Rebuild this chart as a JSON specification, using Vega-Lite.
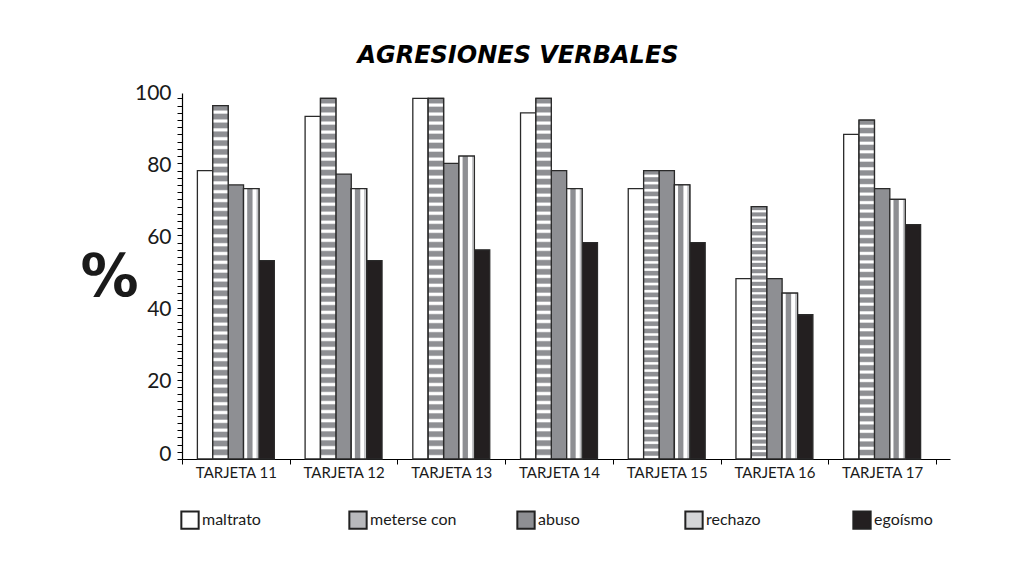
{
  "$schema": "https://vega.github.io/schema/vega-lite/v6.json",
  "autosize": {"type": "none"},
  "width": 768,
  "height": 366,
  "padding": {"left": 182, "top": 93, "right": 71, "bottom": 109},
  "background": "#ffffff",
  "config": {"view": {"stroke": null}, "font": "Lato"},
  "title": {
    "text": "AGRESIONES VERBALES",
    "font": "DejaVu Sans",
    "fontSize": 24,
    "fontWeight": "bold",
    "fontStyle": "italic",
    "color": "#000000",
    "anchor": "middle",
    "baseline": "alphabetic",
    "offset": 29,
    "dx": -48,
    "dy": 34
  },
  "data": {
    "values": [
      {"tarjeta": "TARJETA 11", "tipo": "maltrato", "valor": 80},
      {"tarjeta": "TARJETA 11", "tipo": "meterse con", "valor": 98},
      {"tarjeta": "TARJETA 11", "tipo": "abuso", "valor": 76},
      {"tarjeta": "TARJETA 11", "tipo": "rechazo", "valor": 75},
      {"tarjeta": "TARJETA 11", "tipo": "egoísmo", "valor": 55},
      {"tarjeta": "TARJETA 12", "tipo": "maltrato", "valor": 95},
      {"tarjeta": "TARJETA 12", "tipo": "meterse con", "valor": 100},
      {"tarjeta": "TARJETA 12", "tipo": "abuso", "valor": 79},
      {"tarjeta": "TARJETA 12", "tipo": "rechazo", "valor": 75},
      {"tarjeta": "TARJETA 12", "tipo": "egoísmo", "valor": 55},
      {"tarjeta": "TARJETA 13", "tipo": "maltrato", "valor": 100},
      {"tarjeta": "TARJETA 13", "tipo": "meterse con", "valor": 100},
      {"tarjeta": "TARJETA 13", "tipo": "abuso", "valor": 82},
      {"tarjeta": "TARJETA 13", "tipo": "rechazo", "valor": 84},
      {"tarjeta": "TARJETA 13", "tipo": "egoísmo", "valor": 58},
      {"tarjeta": "TARJETA 14", "tipo": "maltrato", "valor": 96},
      {"tarjeta": "TARJETA 14", "tipo": "meterse con", "valor": 100},
      {"tarjeta": "TARJETA 14", "tipo": "abuso", "valor": 80},
      {"tarjeta": "TARJETA 14", "tipo": "rechazo", "valor": 75},
      {"tarjeta": "TARJETA 14", "tipo": "egoísmo", "valor": 60},
      {"tarjeta": "TARJETA 15", "tipo": "maltrato", "valor": 75},
      {"tarjeta": "TARJETA 15", "tipo": "meterse con", "valor": 80},
      {"tarjeta": "TARJETA 15", "tipo": "abuso", "valor": 80},
      {"tarjeta": "TARJETA 15", "tipo": "rechazo", "valor": 76},
      {"tarjeta": "TARJETA 15", "tipo": "egoísmo", "valor": 60},
      {"tarjeta": "TARJETA 16", "tipo": "maltrato", "valor": 50},
      {"tarjeta": "TARJETA 16", "tipo": "meterse con", "valor": 70},
      {"tarjeta": "TARJETA 16", "tipo": "abuso", "valor": 50},
      {"tarjeta": "TARJETA 16", "tipo": "rechazo", "valor": 46},
      {"tarjeta": "TARJETA 16", "tipo": "egoísmo", "valor": 40},
      {"tarjeta": "TARJETA 17", "tipo": "maltrato", "valor": 90},
      {"tarjeta": "TARJETA 17", "tipo": "meterse con", "valor": 94},
      {"tarjeta": "TARJETA 17", "tipo": "abuso", "valor": 75},
      {"tarjeta": "TARJETA 17", "tipo": "rechazo", "valor": 72},
      {"tarjeta": "TARJETA 17", "tipo": "egoísmo", "valor": 65}
    ]
  },
  "encoding": {
    "x": {
      "field": "tarjeta",
      "type": "nominal",
      "scale": {"paddingInner": 0, "paddingOuter": 0.065, "align": 0},
      "axis": {
        "title": null,
        "labelAngle": 0,
        "labelFont": "Lato",
        "labelFontSize": 15,
        "labelColor": "#1a1a1a",
        "labelPadding": 1,
        "tickBand": "extent",
        "tickSize": 5,
        "tickColor": "#000000",
        "domainColor": "#000000",
        "domainWidth": 1.2,
        "grid": false
      }
    },
    "xOffset": {
      "field": "tipo",
      "type": "nominal",
      "scale": {
        "domain": ["maltrato", "meterse con", "abuso", "rechazo", "egoísmo"],
        "paddingInner": 0,
        "paddingOuter": 1.19
      }
    },
    "y": {
      "field": "valor",
      "type": "quantitative",
      "scale": {"domain": [0, 101.5], "nice": false, "zero": true},
      "axis": {
        "title": "%",
        "titleAngle": 0,
        "titleX": -73,
        "titleY": 185,
        "titleAlign": "center",
        "titleBaseline": "middle",
        "titleFont": "DejaVu Sans",
        "titleFontSize": 58,
        "titleFontWeight": "bold",
        "titleColor": "#1a1a1a",
        "values": [0, 2, 4, 6, 8, 10, 12, 14, 16, 18, 20, 22, 24, 26, 28, 30, 32, 34, 36, 38, 40, 42, 44, 46, 48, 50, 52, 54, 56, 58, 60, 62, 64, 66, 68, 70, 72, 74, 76, 78, 80, 82, 84, 86, 88, 90, 92, 94, 96, 98, 100],
        "labelExpr": "datum.value % 20 === 0 ? datum.label : ''",
        "labelOverlap": false,
        "labelFlush": false,
        "labelFont": "Lato",
        "labelFontSize": 21,
        "labelColor": "#1a1a1a",
        "labelBaseline": "alphabetic",
        "labelOffset": 1,
        "labelPadding": 6,
        "tickSize": 5,
        "tickColor": "#000000",
        "domainColor": "#000000",
        "domainWidth": 1.2,
        "grid": false
      }
    }
  },
  "layer": [
    {
      "mark": {"type": "bar", "stroke": "#2a2a2a", "strokeWidth": 1.3},
      "encoding": {
        "fill": {
          "field": "tipo",
          "type": "nominal",
          "scale": {
            "domain": ["maltrato", "meterse con", "abuso", "rechazo", "egoísmo"],
            "range": ["#ffffff", "#b8b9bc", "#8e8f93", "#d4d5d7", "#231f20"]
          },
          "legend": {
            "title": null,
            "orient": "none",
            "direction": "horizontal",
            "columns": 5,
            "gridAlign": "all",
            "legendX": -2,
            "legendY": 417,
            "symbolType": "square",
            "symbolSize": 300,
            "symbolStrokeColor": "#222222",
            "symbolStrokeWidth": 2,
            "symbolOpacity": 1,
            "labelFont": "Lato",
            "labelFontSize": 16,
            "labelColor": "#1a1a1a",
            "labelOffset": 2,
            "columnPadding": 56
          }
        }
      }
    },
    {
      "transform": [{"filter": "datum.tipo === 'rechazo'"}],
      "mark": {
        "type": "bar",
        "stroke": "#2a2a2a",
        "strokeWidth": 1.3,
        "fill": {"gradient": "linear", "x1": 0, "y1": 0, "x2": 1, "y2": 0, "stops": [
          {"offset": 0, "color": "#ffffff"},
          {"offset": 0.2, "color": "#ffffff"},
          {"offset": 0.27, "color": "#8e8f93"},
          {"offset": 0.55, "color": "#8e8f93"},
          {"offset": 0.62, "color": "#ffffff"},
          {"offset": 0.82, "color": "#ffffff"},
          {"offset": 0.86, "color": "#c4c5c8"},
          {"offset": 0.92, "color": "#c4c5c8"},
          {"offset": 0.96, "color": "#ffffff"},
          {"offset": 1, "color": "#ffffff"}
        ]}
      },
      "encoding": {}
    },
    {
      "transform": [{"filter": "datum.tipo === 'meterse con'"}],
      "mark": {
        "type": "bar",
        "stroke": "#2a2a2a",
        "strokeWidth": 1.3,
        "fill": {"gradient": "linear", "x1": 0, "y1": 0, "x2": 0, "y2": 1, "stops": [
          {"offset": 0, "color": "#8e8f93"}, {"offset": 0.012, "color": "#8e8f93"}, {"offset": 0.016, "color": "#ffffff"}, {"offset": 0.021, "color": "#ffffff"},
          {"offset": 0.025, "color": "#8e8f93"}, {"offset": 0.037, "color": "#8e8f93"}, {"offset": 0.041, "color": "#ffffff"}, {"offset": 0.046, "color": "#ffffff"},
          {"offset": 0.05, "color": "#8e8f93"}, {"offset": 0.062, "color": "#8e8f93"}, {"offset": 0.066, "color": "#ffffff"}, {"offset": 0.071, "color": "#ffffff"},
          {"offset": 0.075, "color": "#8e8f93"}, {"offset": 0.087, "color": "#8e8f93"}, {"offset": 0.091, "color": "#ffffff"}, {"offset": 0.096, "color": "#ffffff"},
          {"offset": 0.1, "color": "#8e8f93"}, {"offset": 0.112, "color": "#8e8f93"}, {"offset": 0.116, "color": "#ffffff"}, {"offset": 0.121, "color": "#ffffff"},
          {"offset": 0.125, "color": "#8e8f93"}, {"offset": 0.137, "color": "#8e8f93"}, {"offset": 0.141, "color": "#ffffff"}, {"offset": 0.146, "color": "#ffffff"},
          {"offset": 0.15, "color": "#8e8f93"}, {"offset": 0.162, "color": "#8e8f93"}, {"offset": 0.166, "color": "#ffffff"}, {"offset": 0.171, "color": "#ffffff"},
          {"offset": 0.175, "color": "#8e8f93"}, {"offset": 0.187, "color": "#8e8f93"}, {"offset": 0.191, "color": "#ffffff"}, {"offset": 0.196, "color": "#ffffff"},
          {"offset": 0.2, "color": "#8e8f93"}, {"offset": 0.212, "color": "#8e8f93"}, {"offset": 0.216, "color": "#ffffff"}, {"offset": 0.221, "color": "#ffffff"},
          {"offset": 0.225, "color": "#8e8f93"}, {"offset": 0.237, "color": "#8e8f93"}, {"offset": 0.241, "color": "#ffffff"}, {"offset": 0.246, "color": "#ffffff"},
          {"offset": 0.25, "color": "#8e8f93"}, {"offset": 0.262, "color": "#8e8f93"}, {"offset": 0.266, "color": "#ffffff"}, {"offset": 0.271, "color": "#ffffff"},
          {"offset": 0.275, "color": "#8e8f93"}, {"offset": 0.287, "color": "#8e8f93"}, {"offset": 0.291, "color": "#ffffff"}, {"offset": 0.296, "color": "#ffffff"},
          {"offset": 0.3, "color": "#8e8f93"}, {"offset": 0.312, "color": "#8e8f93"}, {"offset": 0.316, "color": "#ffffff"}, {"offset": 0.321, "color": "#ffffff"},
          {"offset": 0.325, "color": "#8e8f93"}, {"offset": 0.337, "color": "#8e8f93"}, {"offset": 0.341, "color": "#ffffff"}, {"offset": 0.346, "color": "#ffffff"},
          {"offset": 0.35, "color": "#8e8f93"}, {"offset": 0.362, "color": "#8e8f93"}, {"offset": 0.366, "color": "#ffffff"}, {"offset": 0.371, "color": "#ffffff"},
          {"offset": 0.375, "color": "#8e8f93"}, {"offset": 0.387, "color": "#8e8f93"}, {"offset": 0.391, "color": "#ffffff"}, {"offset": 0.396, "color": "#ffffff"},
          {"offset": 0.4, "color": "#8e8f93"}, {"offset": 0.412, "color": "#8e8f93"}, {"offset": 0.416, "color": "#ffffff"}, {"offset": 0.421, "color": "#ffffff"},
          {"offset": 0.425, "color": "#8e8f93"}, {"offset": 0.437, "color": "#8e8f93"}, {"offset": 0.441, "color": "#ffffff"}, {"offset": 0.446, "color": "#ffffff"},
          {"offset": 0.45, "color": "#8e8f93"}, {"offset": 0.462, "color": "#8e8f93"}, {"offset": 0.466, "color": "#ffffff"}, {"offset": 0.471, "color": "#ffffff"},
          {"offset": 0.475, "color": "#8e8f93"}, {"offset": 0.487, "color": "#8e8f93"}, {"offset": 0.491, "color": "#ffffff"}, {"offset": 0.496, "color": "#ffffff"},
          {"offset": 0.5, "color": "#8e8f93"}, {"offset": 0.512, "color": "#8e8f93"}, {"offset": 0.516, "color": "#ffffff"}, {"offset": 0.521, "color": "#ffffff"},
          {"offset": 0.525, "color": "#8e8f93"}, {"offset": 0.537, "color": "#8e8f93"}, {"offset": 0.541, "color": "#ffffff"}, {"offset": 0.546, "color": "#ffffff"},
          {"offset": 0.55, "color": "#8e8f93"}, {"offset": 0.562, "color": "#8e8f93"}, {"offset": 0.566, "color": "#ffffff"}, {"offset": 0.571, "color": "#ffffff"},
          {"offset": 0.575, "color": "#8e8f93"}, {"offset": 0.587, "color": "#8e8f93"}, {"offset": 0.591, "color": "#ffffff"}, {"offset": 0.596, "color": "#ffffff"},
          {"offset": 0.6, "color": "#8e8f93"}, {"offset": 0.612, "color": "#8e8f93"}, {"offset": 0.616, "color": "#ffffff"}, {"offset": 0.621, "color": "#ffffff"},
          {"offset": 0.625, "color": "#8e8f93"}, {"offset": 0.637, "color": "#8e8f93"}, {"offset": 0.641, "color": "#ffffff"}, {"offset": 0.646, "color": "#ffffff"},
          {"offset": 0.65, "color": "#8e8f93"}, {"offset": 0.662, "color": "#8e8f93"}, {"offset": 0.666, "color": "#ffffff"}, {"offset": 0.671, "color": "#ffffff"},
          {"offset": 0.675, "color": "#8e8f93"}, {"offset": 0.687, "color": "#8e8f93"}, {"offset": 0.691, "color": "#ffffff"}, {"offset": 0.696, "color": "#ffffff"},
          {"offset": 0.7, "color": "#8e8f93"}, {"offset": 0.712, "color": "#8e8f93"}, {"offset": 0.716, "color": "#ffffff"}, {"offset": 0.721, "color": "#ffffff"},
          {"offset": 0.725, "color": "#8e8f93"}, {"offset": 0.737, "color": "#8e8f93"}, {"offset": 0.741, "color": "#ffffff"}, {"offset": 0.746, "color": "#ffffff"},
          {"offset": 0.75, "color": "#8e8f93"}, {"offset": 0.762, "color": "#8e8f93"}, {"offset": 0.766, "color": "#ffffff"}, {"offset": 0.771, "color": "#ffffff"},
          {"offset": 0.775, "color": "#8e8f93"}, {"offset": 0.787, "color": "#8e8f93"}, {"offset": 0.791, "color": "#ffffff"}, {"offset": 0.796, "color": "#ffffff"},
          {"offset": 0.8, "color": "#8e8f93"}, {"offset": 0.812, "color": "#8e8f93"}, {"offset": 0.816, "color": "#ffffff"}, {"offset": 0.821, "color": "#ffffff"},
          {"offset": 0.825, "color": "#8e8f93"}, {"offset": 0.837, "color": "#8e8f93"}, {"offset": 0.841, "color": "#ffffff"}, {"offset": 0.846, "color": "#ffffff"},
          {"offset": 0.85, "color": "#8e8f93"}, {"offset": 0.862, "color": "#8e8f93"}, {"offset": 0.866, "color": "#ffffff"}, {"offset": 0.871, "color": "#ffffff"},
          {"offset": 0.875, "color": "#8e8f93"}, {"offset": 0.887, "color": "#8e8f93"}, {"offset": 0.891, "color": "#ffffff"}, {"offset": 0.896, "color": "#ffffff"},
          {"offset": 0.9, "color": "#8e8f93"}, {"offset": 0.912, "color": "#8e8f93"}, {"offset": 0.916, "color": "#ffffff"}, {"offset": 0.921, "color": "#ffffff"},
          {"offset": 0.925, "color": "#8e8f93"}, {"offset": 0.937, "color": "#8e8f93"}, {"offset": 0.941, "color": "#ffffff"}, {"offset": 0.946, "color": "#ffffff"},
          {"offset": 0.95, "color": "#8e8f93"}, {"offset": 0.962, "color": "#8e8f93"}, {"offset": 0.966, "color": "#ffffff"}, {"offset": 0.971, "color": "#ffffff"},
          {"offset": 0.975, "color": "#8e8f93"}, {"offset": 0.987, "color": "#8e8f93"}, {"offset": 0.991, "color": "#ffffff"}, {"offset": 0.996, "color": "#ffffff"},
          {"offset": 1, "color": "#8e8f93"}
        ]}
      },
      "encoding": {}
    }
  ]
}
